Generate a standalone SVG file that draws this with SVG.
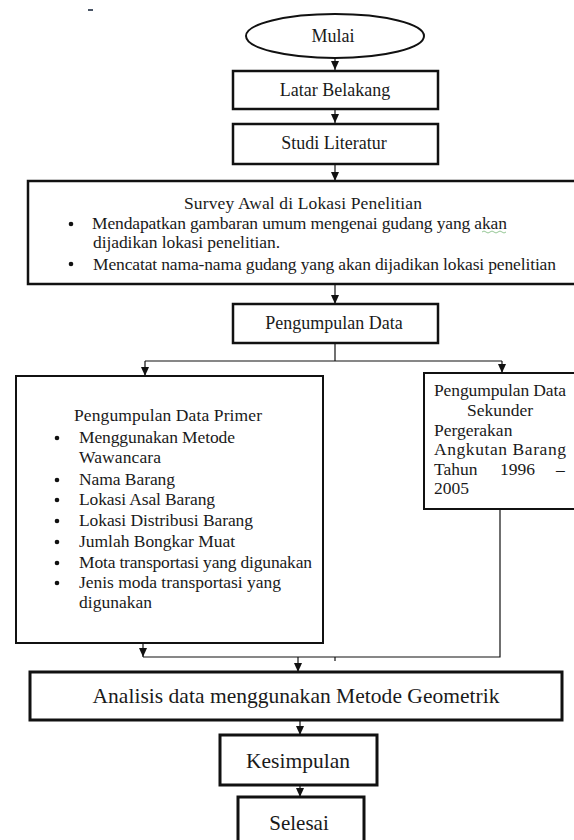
<svg xmlns="http://www.w3.org/2000/svg" width="574" height="840" viewBox="0 0 574 840">
<defs>
<marker id="ah" markerUnits="userSpaceOnUse" markerWidth="9" markerHeight="8" refX="9" refY="4" orient="auto" viewBox="0 0 9 8">
<path d="M0,0 L9,4 L0,8 Z" fill="#111"/>
</marker>
</defs>
<style>
.box{fill:#fff;stroke:#111;stroke-width:2.5}
.thin{fill:#fff;stroke:#111;stroke-width:2}
.t{font-family:"Liberation Serif","Times New Roman",serif;font-size:17.5px;fill:#1a1a1a}
.c{text-anchor:middle}
.h{font-size:18px}
.big{font-size:21.5px}
.ln{fill:none;stroke:#111;stroke-width:1.2}
.arr{fill:none;stroke:#111;stroke-width:1.2}
</style>
<rect width="574" height="840" fill="#fff"/>
<rect x="88" y="9" width="5" height="2" fill="#4a5566"/>

<g id="connectors">
<line class="arr" x1="335" y1="58" x2="335" y2="70" marker-end="url(#ah)"/>
<line class="arr" x1="335" y1="110" x2="335" y2="123" marker-end="url(#ah)"/>
<line class="arr" x1="335" y1="164" x2="335" y2="181" marker-end="url(#ah)"/>
<line class="arr" x1="335" y1="284" x2="335" y2="304" marker-end="url(#ah)"/>
<polyline class="ln" points="335,343 335,361"/>
<polyline class="ln" points="145,361 502,361"/>
<line class="arr" x1="145" y1="361" x2="145" y2="376" marker-end="url(#ah)"/>
<line class="arr" x1="502" y1="361" x2="502" y2="373" marker-end="url(#ah)"/>
<line class="arr" x1="143" y1="643" x2="143" y2="657" marker-end="url(#ah)"/>
<polyline class="ln" points="143,657 500,657 500,509"/>
<line class="ln" x1="335" y1="657" x2="335" y2="661"/>
<line class="arr" x1="298" y1="657" x2="298" y2="672" marker-end="url(#ah)"/>
<line class="arr" x1="300" y1="720" x2="300" y2="735" marker-end="url(#ah)"/>
<line class="arr" x1="300" y1="785" x2="300" y2="797" marker-end="url(#ah)"/>
</g>

<g id="mulai">
<ellipse class="thin" cx="335" cy="36" rx="89" ry="22"/>
<text class="t c h" x="333" y="42">Mulai</text>
</g>

<g id="latar">
<rect class="box" x="233" y="71" width="205" height="38"/>
<text class="t c h" x="335" y="96">Latar Belakang</text>
</g>

<g id="studi">
<rect class="box" x="233" y="124" width="205" height="40"/>
<text class="t c h" x="334" y="149">Studi Literatur</text>
</g>

<g id="survey">
<rect class="box" x="28" y="181" width="548" height="103"/>
<text class="t" x="184" y="209" textLength="238">Survey Awal di Lokasi Penelitian</text>
<circle cx="71" cy="224" r="2.3" fill="#111"/>
<text class="t" x="92" y="229" textLength="415">Mendapatkan gambaran umum mengenai gudang yang akan</text>
<path d="M482,232 q2,-2 4,0 t4,0 t4,0 t4,0 t4,0 t4,0" fill="none" stroke="#7ab87a" stroke-width="0.8"/>
<text class="t" x="93" y="248" textLength="187">dijadikan lokasi penelitian.</text>
<circle cx="71" cy="264" r="2.3" fill="#111"/>
<text class="t" x="93" y="270" textLength="463">Mencatat nama-nama gudang yang akan dijadikan lokasi penelitian</text>
</g>

<g id="pengumpulan">
<rect class="box" x="233" y="304" width="205" height="39"/>
<text class="t c h" x="334" y="329">Pengumpulan Data</text>
</g>

<g id="primer">
<rect class="thin" x="16" y="376" width="307" height="267"/>
<text class="t" x="74" y="421" textLength="188">Pengumpulan Data Primer</text>
<g fill="#111">
<circle cx="57" cy="438" r="2.3"/>
<circle cx="57" cy="480" r="2.3"/>
<circle cx="57" cy="500" r="2.3"/>
<circle cx="57" cy="521" r="2.3"/>
<circle cx="57" cy="542" r="2.3"/>
<circle cx="57" cy="563" r="2.3"/>
<circle cx="57" cy="583" r="2.3"/>
</g>
<text class="t" x="79" y="443" textLength="156">Menggunakan Metode</text>
<text class="t" x="79" y="463" textLength="82">Wawancara</text>
<text class="t" x="79" y="485" textLength="96">Nama Barang</text>
<text class="t" x="79" y="505" textLength="136">Lokasi Asal Barang</text>
<text class="t" x="79" y="526" textLength="174">Lokasi Distribusi Barang</text>
<text class="t" x="79" y="547" textLength="156">Jumlah Bongkar Muat</text>
<text class="t" x="79" y="568" textLength="233">Mota transportasi yang digunakan</text>
<text class="t" x="79" y="588" textLength="202">Jenis moda transportasi yang</text>
<text class="t" x="79" y="608" textLength="73">digunakan</text>
</g>

<g id="sekunder">
<rect class="thin" x="424" y="373" width="160" height="136"/>
<text class="t" x="434" y="396" textLength="132">Pengumpulan Data</text>
<text class="t" x="467" y="416">Sekunder</text>
<text class="t" x="434" y="436">Pergerakan</text>
<text class="t" x="434" y="455" textLength="132">Angkutan  Barang</text>
<text class="t" x="434" y="475">Tahun</text>
<text class="t" x="500" y="475">1996</text>
<text class="t" x="556" y="475">–</text>
<text class="t" x="434" y="494">2005</text>
</g>

<g id="analisis">
<rect class="box" x="30" y="672" width="532" height="48" style="stroke-width:3"/>
<text class="t c big" x="296" y="703" textLength="407">Analisis data menggunakan Metode Geometrik</text>
</g>

<g id="kesimpulan">
<rect class="box" x="220" y="735" width="157" height="50" style="stroke-width:3"/>
<text class="t c big" x="298" y="768">Kesimpulan</text>
</g>

<g id="selesai">
<rect class="box" x="238" y="797" width="126" height="60" style="stroke-width:3"/>
<text class="t c" x="299" y="830" style="font-size:21px">Selesai</text>
</g>
</svg>
